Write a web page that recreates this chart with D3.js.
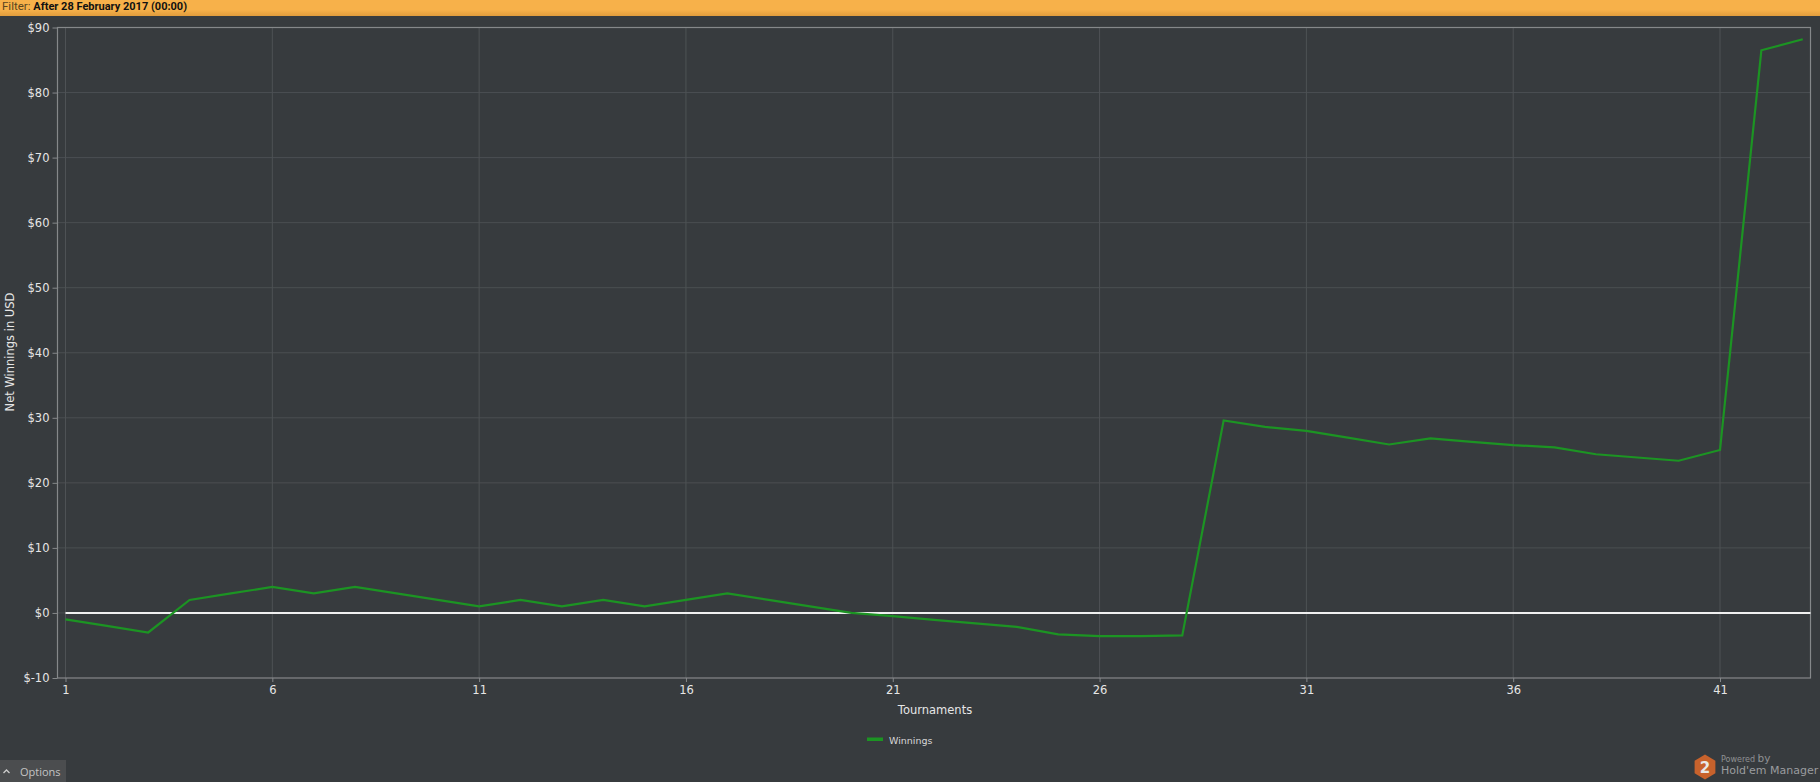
<!DOCTYPE html>
<html>
<head>
<meta charset="utf-8">
<script src="https://cdn.jsdelivr.net/npm/d3@7"></script>
<style>
  html, body { margin: 0; padding: 0; background: #373b3e; overflow: hidden; }
  svg { display: block; }
  text { font-family: "DejaVu Sans", sans-serif; }
</style>
</head>
<body>
<svg id="chart" width="1820" height="782"></svg>
<script>
const tournaments = d3.range(1, 44);
const winnings = [
  -1, -2, -3, 2, 3, 4, 3, 4, 3, 2,
  1, 2, 1, 2, 1, 2, 3, 2, 1, 0,
  -0.5, -1.05, -1.6, -2.15, -3.3, -3.55, -3.55, -3.45, 29.6, 28.6,
  28, 26.95, 25.9, 26.85, 26.3, 25.8, 25.45, 24.4, 23.9, 23.4,
  25.05, 86.5, 88.2
];
const xTicks = [1, 6, 11, 16, 21, 26, 31, 36, 41];
const yTicks = [-10, 0, 10, 20, 30, 40, 50, 60, 70, 80, 90];

const svg = d3.select("#chart");

const plotLeft = 57.5, plotRight = 1810.5, plotTop = 27.5, plotBottom = 678;
const x = d3.scaleLinear().domain([1, 41]).range([65.5, 1720]);
const y = d3.scaleLinear().domain([-10, 90]).range([plotBottom, plotTop]);

const defs = svg.append("defs");
const barGrad = defs.append("linearGradient")
  .attr("id", "bar-grad").attr("x1", 0).attr("y1", 0).attr("x2", 0).attr("y2", 1);
barGrad.append("stop").attr("offset", "60%").attr("stop-color", "#f7b14a");
barGrad.append("stop").attr("offset", "100%").attr("stop-color", "#e09c3c");

// filter bar
svg.append("rect").attr("width", 1820).attr("height", 16).attr("fill", "url(#bar-grad)");
const filterText = svg.append("text").attr("x", 2).attr("y", 10)
  .attr("font-size", 11).style("font-family", "Roboto, sans-serif");
filterText.append("tspan").attr("fill", "#5a4520").attr("font-size", 11.5).text("Filter: ");
filterText.append("tspan").attr("fill", "#111").attr("font-weight", 700).text("After 28 February 2017 (00:00)");

// grid
svg.append("g").selectAll("line").data(yTicks.slice(1, -1)).join("line")
  .attr("x1", plotLeft).attr("x2", plotRight)
  .attr("y1", d => y(d)).attr("y2", d => y(d))
  .attr("stroke", "#4b4f52");
svg.append("g").selectAll("line").data(xTicks).join("line")
  .attr("x1", d => x(d)).attr("x2", d => x(d))
  .attr("y1", plotTop).attr("y2", plotBottom)
  .attr("stroke", "#4e5255");

// axes
const yAxis = d3.axisLeft(y).tickValues(yTicks).tickSize(5).tickPadding(3)
  .tickFormat(d => "$" + d);
const xAxis = d3.axisBottom(x).tickValues(xTicks).tickSize(4).tickPadding(4);

const gy = svg.append("g").attr("transform", `translate(${plotLeft},0)`).call(yAxis);
const gx = svg.append("g").attr("transform", `translate(0,${plotBottom})`).call(xAxis);
[gy, gx].forEach(g => {
  g.select(".domain").remove();
  g.selectAll("line").attr("stroke", "#85888a");
  g.selectAll("text").attr("fill", "#e6e6e6").attr("font-size", 11.5);
});

// plot border
svg.append("rect")
  .attr("x", plotLeft).attr("y", plotTop)
  .attr("width", plotRight - plotLeft).attr("height", plotBottom - plotTop)
  .attr("fill", "none").attr("stroke", "#85888a").attr("stroke-width", 1.2);

// zero line
svg.append("line")
  .attr("x1", x(1)).attr("x2", plotRight)
  .attr("y1", y(0)).attr("y2", y(0))
  .attr("stroke", "#f0f0f0").attr("stroke-width", 2);

// winnings line
const line = d3.line().x((d, i) => x(tournaments[i])).y(d => y(d));
svg.append("path").datum(winnings)
  .attr("d", line).attr("fill", "none")
  .attr("stroke", "#1c9423").attr("stroke-width", 2.2);

// axis titles
svg.append("text").attr("x", 935).attr("y", 714).attr("text-anchor", "middle")
  .attr("fill", "#e6e6e6").attr("font-size", 11.5).text("Tournaments");
svg.append("text").attr("transform", "translate(14,352) rotate(-90)").attr("text-anchor", "middle")
  .attr("fill", "#e6e6e6").attr("font-size", 11.5).text("Net Winnings in USD");

// legend
svg.append("rect").attr("x", 867).attr("y", 737.5).attr("width", 16).attr("height", 3.5).attr("fill", "#1c9423");
svg.append("text").attr("x", 889).attr("y", 743.5)
  .attr("fill", "#d8d8d8").attr("font-size", 9.5).text("Winnings");

// options tab
svg.append("rect").attr("x", 0).attr("y", 760).attr("width", 66).attr("height", 22).attr("fill", "#4b4d4f");
svg.append("path").attr("d", "M3.5 773 L6.5 770 L9.5 773").attr("fill", "none").attr("stroke", "#ccc").attr("stroke-width", 1.3);
svg.append("text").attr("x", 20).attr("y", 776)
  .attr("fill", "#c4c4c4").attr("font-size", 11).style("font-family", "Open Sans, sans-serif").text("Options");

// logo
const hex = d3.range(6).map(i => {
  const a = Math.PI / 6 + i * Math.PI / 3;
  return [1705 + 12 * Math.cos(a), 767 + 12.5 * Math.sin(a)];
});
svg.append("polygon").attr("points", hex.join(" ")).attr("fill", "#c8622c");
svg.append("text").attr("x", 1705).attr("y", 772.5).attr("text-anchor", "middle")
  .attr("fill", "#e8e8e8").attr("font-size", 15).attr("font-weight", "bold").text("2");
const powered = svg.append("text").attr("x", 1721).attr("y", 762).attr("fill", "#8f9193");
powered.append("tspan").attr("font-size", 8).text("Powered ");
powered.append("tspan").attr("font-size", 10.5).text("by");
svg.append("text").attr("x", 1721).attr("y", 774)
  .attr("fill", "#9a9c9e").attr("font-size", 11).text("Hold'em Manager");
</script>
</body>
</html>
